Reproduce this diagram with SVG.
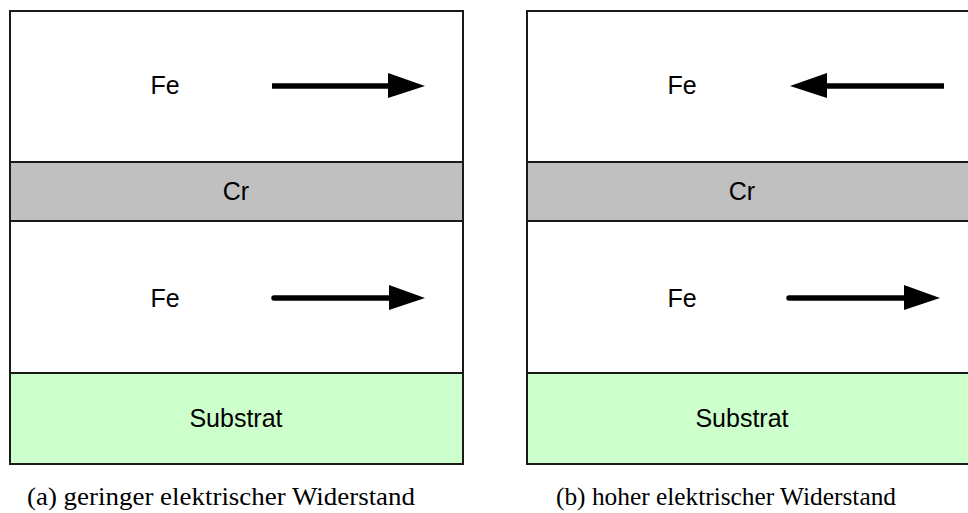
<svg xmlns="http://www.w3.org/2000/svg" width="968" height="513" viewBox="0 0 968 513">
<style>
.layer{stroke:#1a1a1a;stroke-width:2}
.fe{fill:#ffffff}
.cr{fill:#c0c0c0}
.sub{fill:#ccffcc}
.lbl{font-family:"Liberation Sans",Arial,sans-serif;font-size:25px;fill:#000;text-anchor:middle}
.cap{font-family:"Liberation Serif","Times New Roman",serif;font-size:25px;fill:#000}
.shaft{stroke:#000;stroke-width:5.5;fill:none}
.head{fill:#000}
</style>
<g id="panel-a">
  <g id="a-fe-top"><rect class="layer fe" x="10" y="11" width="453" height="151"/><text class="lbl" x="165" y="94">Fe</text></g>
  <g id="a-cr"><rect class="layer cr" x="10" y="162" width="453" height="59"/><text class="lbl" x="236" y="200">Cr</text></g>
  <g id="a-fe-bottom"><rect class="layer fe" x="10" y="221" width="453" height="152"/><text class="lbl" x="165" y="307">Fe</text></g>
  <g id="a-sub"><rect class="layer sub" x="10" y="373" width="453" height="91"/><text class="lbl" x="236" y="427">Substrat</text></g>
</g>
<g id="panel-b">
  <g id="b-fe-top"><rect class="layer fe" x="527" y="11" width="460" height="151"/><text class="lbl" x="682" y="94">Fe</text></g>
  <g id="b-cr"><rect class="layer cr" x="527" y="162" width="460" height="59"/><text class="lbl" x="742" y="200">Cr</text></g>
  <g id="b-fe-bottom"><rect class="layer fe" x="527" y="221" width="460" height="152"/><text class="lbl" x="682" y="307">Fe</text></g>
  <g id="b-sub"><rect class="layer sub" x="527" y="373" width="460" height="91"/><text class="lbl" x="742" y="427">Substrat</text></g>
</g>
<g id="connectors">
  <line class="shaft" x1="272" y1="86" x2="392" y2="86"/>
  <polygon class="head" points="388,73 425,86 388,98"/>
  <line class="shaft" x1="944" y1="86" x2="823" y2="86"/>
  <polygon class="head" points="827,73 790,86 827,98"/>
  <line class="shaft" x1="274" y1="298" x2="393" y2="298" stroke-linecap="round"/>
  <polygon class="head" points="389,285 425,298 389,310"/>
  <line class="shaft" x1="789" y1="298" x2="908" y2="298" stroke-linecap="round"/>
  <polygon class="head" points="904,285 940,298 904,310"/>
</g>
<g id="captions">
  <text class="cap" x="27" y="505" textLength="388" lengthAdjust="spacingAndGlyphs">(a) geringer elektrischer Widerstand</text>
  <text class="cap" x="556" y="505" textLength="340" lengthAdjust="spacingAndGlyphs">(b) hoher elektrischer Widerstand</text>
</g>
</svg>
